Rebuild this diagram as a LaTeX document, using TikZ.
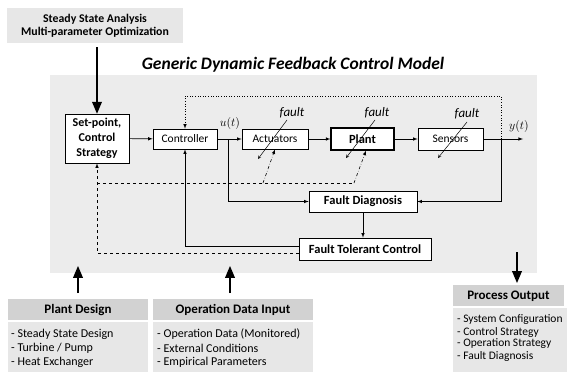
\documentclass[tikz,border=0pt]{standalone}
\usepackage{amsmath}
\usepackage{fontspec}
\setmainfont{Carlito}
\usepackage{tikz}
\usetikzlibrary{arrows}
\definecolor{bggray}{RGB}{236,236,236}
\definecolor{boxgray}{RGB}{231,231,231}
\definecolor{hdrgray}{RGB}{210,210,210}

\begin{document}
\begin{tikzpicture}[x=1pt,y=1pt,>=latex]
\tikzstyle{every node}+=[inner sep=0pt]
\tikzstyle{blk}=[draw,fill=white,line width=0.6pt,font=\fontsize{11.5}{13}\selectfont,align=center]
\tikzstyle{bblk}=[blk,font=\fontsize{12.5}{14}\selectfont\bfseries]
\tikzstyle{conn}=[->,line width=0.6pt]
\tikzstyle{bigarrow}=[->,line width=1.8pt,>=triangle 45]
\tikzstyle{flt}=[font=\fontsize{13}{14}\selectfont\itshape]
\tikzstyle{fltarrow}=[->,line width=0.5pt,>=stealth]
\tikzstyle{item}=[anchor=west,font=\fontsize{12}{13}\selectfont]
\tikzstyle{hdr}=[font=\fontsize{13}{14}\selectfont\bfseries]
\useasboundingbox (0,0) rectangle (574,-372);
% background of the model
\fill [bggray] (50,-75) rectangle (537,-273);
\draw (293,-65) node [font=\fontsize{17.5}{19}\selectfont\bfseries\itshape] {Generic Dynamic Feedback Control Model};
% top box
\fill [boxgray] (7,-8) rectangle (183,-43);
\node [font=\fontsize{11.8}{13}\selectfont\bfseries,align=center] (ssa) at (95,-26) {Steady State Analysis\\[0pt]Multi-parameter Optimization};
% blocks
\node [bblk,font=\fontsize{12}{15}\selectfont\bfseries,minimum width=64,minimum height=49] (sp) at (97,-138.5) {Set-point,\\Control\\Strategy};
\node [blk,minimum width=64,minimum height=20] (ctrl) at (185,-139) {Controller};
\node [blk,minimum width=66,minimum height=20] (act) at (275,-139) {Actuators};
\node [bblk,line width=1.2pt,minimum width=63,minimum height=22] (plant) at (362.5,-139) {Plant};
\node [blk,minimum width=65,minimum height=22] (sens) at (450.5,-139) {Sensors};
\node [bblk,minimum width=108,minimum height=21] (fd) at (363,-201.5) {Fault Diagnosis};
\node [bblk,minimum width=132,minimum height=22] (ftc) at (365,-249) {Fault Tolerant Control};
\coordinate (ub) at (228,-139);
\coordinate (yb) at (501,-139);
\coordinate (yout) at (523,-139);
\coordinate (rc) at (97,-183);
\coordinate (rp) at (354,-183);
\coordinate (ra) at (263,-183);
% forward path
\draw [conn] (sp) -- (ctrl);
\draw [conn] (ctrl) -- (act);
\draw (230,-123) node [font=\fontsize{13}{14}\selectfont] {$u(t)$};
\draw [conn] (act) -- (plant);
\draw [conn] (plant) -- (sens);
\draw [conn] (sens) -- (yout);
\draw (519,-126) node [font=\fontsize{13}{14}\selectfont] {$y(t)$};
% diagnosis
\draw [conn] (ub) |- (fd.west);
\draw [conn] (yb) |- (fd.east);
\draw [conn] (fd.south) -- (fd.south |- ftc.north);
\draw [->,dotted,line width=0.6pt] (yb) -- (501,-96) -| (ctrl.north);
\draw [conn] ([yshift=3pt]ftc.west) -| (ctrl.south);
\draw [->,dashed,line width=0.6pt] ([yshift=-4pt]ftc.west) -| (sp.south);
\draw [dashed,line width=0.6pt] (rc) -- (rp);
\draw [->,dashdotted,line width=0.6pt] (rp) -- ([xshift=3.5pt]plant.south);
\draw [->,dashdotted,line width=0.6pt] (ra) -- (act.south);
% faults
\node [flt] (fa) at (292,-113) {fault};
\node [flt] (fp) at (377,-113) {fault};
\node [flt] (fs) at (467,-114) {fault};
\draw [fltarrow] (287,-120) -- (258,-159);
\draw [fltarrow] (375,-120) -- (346,-158);
\draw [fltarrow] (467,-122) -- (438,-158);
% outside arrows
\draw [bigarrow] (97,-47) -- (sp.north);
\draw [bigarrow] (78,-293) -- (78,-266);
\draw [bigarrow] (230,-293) -- (230,-266);
\draw [bigarrow] (517,-252) -- (517,-283);
% plant design
\fill [hdrgray] (8,-299) rectangle (148,-320);
\node [hdr] (pd) at (78,-310) {Plant Design};
\fill [boxgray] (8,-322) rectangle (148,-372);
\node [item] at (11,-334) {- Steady State Design};
\node [item] at (11,-348) {- Turbine / Pump};
\node [item] at (11,-362) {- Heat Exchanger};
% operation data
\fill [hdrgray] (153,-299) rectangle (313,-320);
\node [hdr] (odi) at (233,-310) {Operation Data Input};
\fill [boxgray] (153,-322) rectangle (313,-372);
\node [item] at (157,-334) {- Operation Data (Monitored)};
\node [item] at (157,-348) {- External Conditions};
\node [item] at (157,-362) {- Empirical Parameters};
% process output
\fill [hdrgray] (453,-285) rectangle (564,-306);
\node [hdr] (po) at (508.5,-296) {Process Output};
\fill [boxgray] (453,-308) rectangle (567,-372);
\node [item,font=\fontsize{11.5}{12}\selectfont] at (457,-320) {- System Configuration};
\node [item,font=\fontsize{11.5}{12}\selectfont] at (457,-332) {- Control Strategy};
\node [item,font=\fontsize{11.5}{12}\selectfont] at (457,-344) {- Operation Strategy};
\node [item,font=\fontsize{11.5}{12}\selectfont] at (457,-356) {- Fault Diagnosis};
\end{tikzpicture}
\end{document}
